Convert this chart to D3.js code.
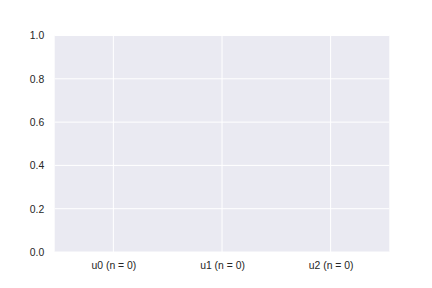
<!DOCTYPE html>
<html>
<head>
<meta charset="utf-8">
<script src="https://cdn.jsdelivr.net/npm/d3@7"></script>
<style>
  html, body { margin: 0; padding: 0; background: #fff; }
  text { font-family: "Liberation Sans", Arial, sans-serif; fill: #262626; }
</style>
</head>
<body>
<div id="chart"></div>
<script>
// categories with their counts (all empty)
var categories = ["u0", "u1", "u2"];
var counts = [0, 0, 0];
var yTicks = [0.0, 0.2, 0.4, 0.6, 0.8, 1.0];

var W = 432, H = 288;
var margin = { top: 35.5, right: 42.7, bottom: 36, left: 54.7 };
var width = W - margin.left - margin.right,
    height = H - margin.top - margin.bottom;

var labels = categories.map(function (c, i) { return c + " (n = " + counts[i] + ")"; });

var x = d3.scalePoint().domain(labels).range([0, width]).padding(0.54);
var y = d3.scaleLinear().domain([0, 1]).range([height, 0]);

var svg = d3.select("#chart").append("svg")
    .attr("width", W)
    .attr("height", H)
  .append("g")
    .attr("transform", "translate(" + margin.left + "," + margin.top + ")");

svg.append("rect")
    .attr("width", width)
    .attr("height", height)
    .attr("fill", "#eaeaf2");

// grid
svg.append("g").selectAll("line.h")
    .data(yTicks)
    .enter().append("line")
    .attr("x1", 0).attr("x2", width)
    .attr("y1", function (d) { return y(d); })
    .attr("y2", function (d) { return y(d); })
    .attr("stroke", "#fff").attr("stroke-width", 1);

svg.append("g").selectAll("line.v")
    .data(labels)
    .enter().append("line")
    .attr("y1", 0).attr("y2", height)
    .attr("x1", function (d) { return x(d); })
    .attr("x2", function (d) { return x(d); })
    .attr("stroke", "#fff").attr("stroke-width", 1);

// axes (no lines, just labels)
var yAxis = d3.axisLeft(y).tickValues(yTicks).tickFormat(d3.format(".1f")).tickSize(0).tickPadding(10.5);
var gy = svg.append("g").call(yAxis);
gy.select(".domain").remove();
gy.selectAll("text").style("font-size", "10.4px").style("fill", "#262626");

var xAxis = d3.axisBottom(x).tickSize(0).tickPadding(9.5);
var gx = svg.append("g").attr("transform", "translate(0," + height + ")").call(xAxis);
gx.select(".domain").remove();
gx.selectAll("text").style("font-size", "10.4px").style("fill", "#262626");
</script>
</body>
</html>
